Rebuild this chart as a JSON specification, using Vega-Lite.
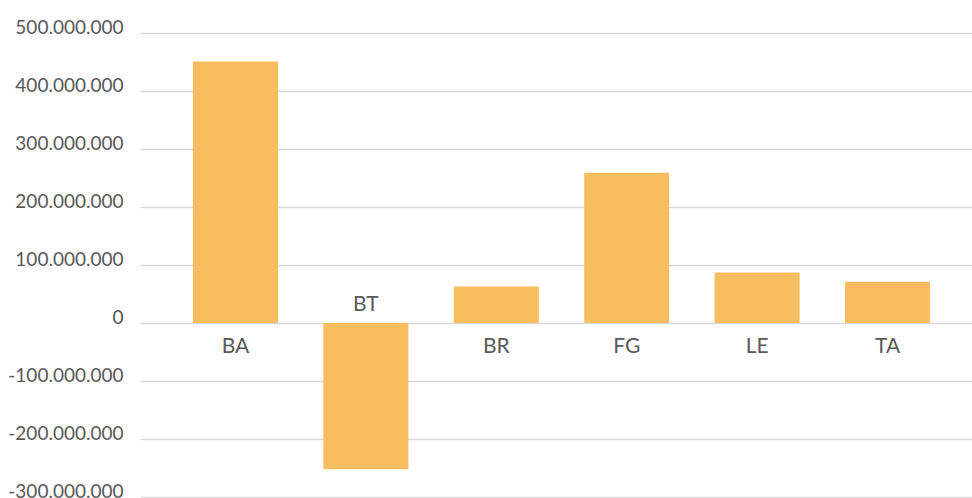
{
  "$schema": "https://vega.github.io/schema/vega-lite/v6.json",
  "width": 832,
  "height": 464,
  "autosize": {"type": "none"},
  "padding": {"left": 140, "top": 33, "right": 0, "bottom": 1},
  "background": "white",
  "config": {"view": {"stroke": null}},
  "data": {
    "values": [
      {"cat": "BA", "value": 451000000},
      {"cat": "BT", "value": -252000000},
      {"cat": "BR", "value": 63000000},
      {"cat": "FG", "value": 259000000},
      {"cat": "LE", "value": 87000000},
      {"cat": "TA", "value": 71000000}
    ]
  },
  "encoding": {
    "x": {
      "field": "cat",
      "type": "nominal",
      "sort": null,
      "axis": null,
      "scale": {"paddingInner": 0.348, "paddingOuter": 0.364, "align": 0.558}
    }
  },
  "layer": [
    {
      "mark": {"type": "bar", "color": "#F8BD5E"},
      "encoding": {
        "y": {
          "field": "value",
          "type": "quantitative",
          "scale": {"domain": [-300000000, 500000000], "nice": false, "zero": true},
          "axis": {
            "values": [-300000000, -200000000, -100000000, 0, 100000000, 200000000, 300000000, 400000000, 500000000],
            "labelExpr": "replace(replace(format(datum.value, ',.0f'), regexp(',', 'g'), '.'), '\u2212', '-')",
            "grid": true,
            "gridColor": "#d9d9d9",
            "gridWidth": 1.3,
            "domain": false,
            "ticks": false,
            "labelFont": "Lato",
            "labelFontSize": 19,
            "labelColor": "#595959",
            "labelBaseline": "alphabetic",
            "labelPadding": 17,
            "labelOverlap": false,
            "title": null
          }
        }
      }
    },
    {
      "transform": [{"filter": "datum.value >= 0"}],
      "mark": {"type": "text", "dy": 30, "baseline": "alphabetic", "fontSize": 21, "font": "Lato", "color": "#595959"},
      "encoding": {
        "y": {"datum": 0, "type": "quantitative"},
        "text": {"field": "cat"}
      }
    },
    {
      "transform": [{"filter": "datum.value < 0"}],
      "mark": {"type": "text", "dy": -11.6, "baseline": "alphabetic", "fontSize": 21, "font": "Lato", "color": "#595959"},
      "encoding": {
        "y": {"datum": 0, "type": "quantitative"},
        "text": {"field": "cat"}
      }
    }
  ]
}
